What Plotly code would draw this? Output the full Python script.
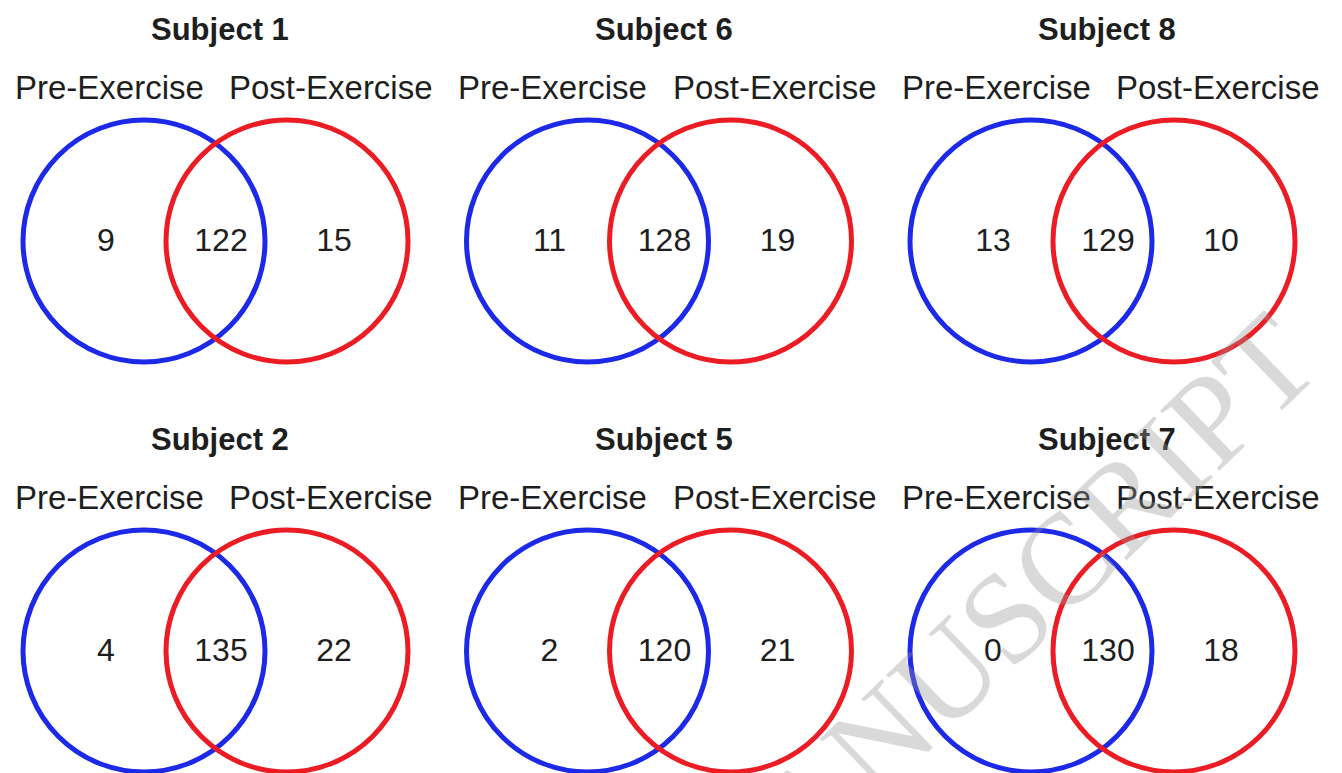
import plotly.graph_objects as go

# Overlap counts per subject: only before exercise, shared, only after exercise
subjects = ["Subject 1", "Subject 6", "Subject 8", "Subject 2", "Subject 5", "Subject 7"]
pre_only = [9, 11, 13, 4, 2, 0]
shared = [122, 128, 129, 135, 120, 130]
post_only = [15, 19, 10, 22, 21, 18]
set_labels = ["Pre-Exercise", "Post-Exercise"]

W, H = 1342, 773
N_COLS = 3
COL_STEP = 443.5
ROW_STEP = 410
R = 121            # circle radius
GAP = 143          # distance between the two circle centres
BLUE = "#1c2ae8"
RED = "#ec1c24"
FONT = "Liberation Sans, Arial, sans-serif"
INK = "#1e1e1e"

fig = go.Figure()
shapes, annotations = [], []
num_x, num_y, num_text = [], [], []

for i, name in enumerate(subjects):
    row, col = divmod(i, N_COLS)
    cx = 144 + col * COL_STEP       # centre of the pre-exercise circle
    cy = 241 + row * ROW_STEP
    for dx, color in ((0, BLUE), (GAP, RED)):
        shapes.append(dict(type="circle", xref="x", yref="y",
                           x0=cx + dx - R, x1=cx + dx + R,
                           y0=cy - R, y1=cy + R,
                           line=dict(color=color, width=5),
                           fillcolor="rgba(0,0,0,0)", layer="above"))
    annotations.append(dict(x=cx + 76, y=cy - 212, text=f"<b>{name}</b>",
                            showarrow=False, xanchor="center", yanchor="middle",
                            font=dict(family=FONT, size=31, color=INK)))
    annotations.append(dict(x=cx - 35, y=cy - 154, text=set_labels[0],
                            showarrow=False, xanchor="center", yanchor="middle",
                            font=dict(family=FONT, size=33, color=INK)))
    annotations.append(dict(x=cx + 187, y=cy - 154, text=set_labels[1],
                            showarrow=False, xanchor="center", yanchor="middle",
                            font=dict(family=FONT, size=33, color=INK)))
    for off, val in ((-38, pre_only[i]), (77, shared[i]), (190, post_only[i])):
        num_x.append(cx + off)
        num_y.append(cy + 2)
        num_text.append(str(val))

fig.add_trace(go.Scatter(x=num_x, y=num_y, text=num_text, mode="text",
                         textposition="middle center",
                         textfont=dict(family=FONT, size=32, color=INK),
                         hoverinfo="skip", showlegend=False))

# faint diagonal journal watermark
annotations.append(dict(xref="paper", yref="paper", x=744 / W, y=1 - 870 / H,
                        text="ACCEPTED MANUSCRIPT", textangle=-44,
                        showarrow=False, xanchor="center", yanchor="middle",
                        font=dict(family="Liberation Serif, Times New Roman, serif",
                                  size=129, color="rgba(150,150,150,0.36)")))

fig.update_layout(
    width=W, height=H,
    margin=dict(l=0, r=0, t=0, b=0),
    paper_bgcolor="white", plot_bgcolor="white",
    shapes=shapes, annotations=annotations,
    xaxis=dict(range=[0, W], visible=False, fixedrange=True),
    yaxis=dict(range=[H, 0], visible=False, fixedrange=True),
)

fig.write_html("out.html")
